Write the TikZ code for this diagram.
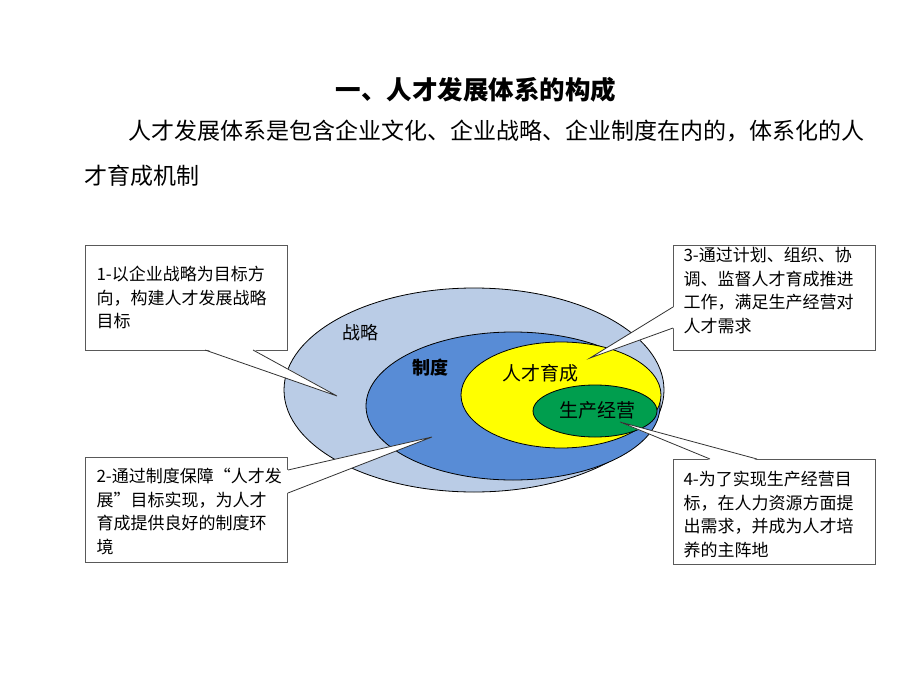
\documentclass[tikz,border=0pt]{standalone}
\usepackage{fontspec}
\setmainfont{Noto Sans CJK SC}
\usepackage{xcolor}
\usetikzlibrary{positioning}
\definecolor{outerblue}{RGB}{186,204,230}
\definecolor{midblue}{RGB}{88,140,214}
\definecolor{talentyellow}{RGB}{255,255,0}
\definecolor{opsgreen}{RGB}{0,158,78}
\begin{document}
\begin{tikzpicture}[x=1pt,y=-1pt]
    \tikzstyle{ring}=[draw=black,line width=0.8pt]
    \tikzstyle{note}=[draw=black!65,line width=0.9pt,fill=white,minimum width=202pt,minimum height=105pt,inner sep=0pt]
    \tikzstyle{notetext}=[align=left,font=\fontsize{17}{23.5}\selectfont,anchor=north west]
    \tikzstyle{tail}=[draw=black!80,line width=0.8pt,fill=white]

    \useasboundingbox (0,0) rectangle (920,690);

    % title and text
    \node[font=\fontsize{25.5}{28}\selectfont\bfseries] (title) at (476,90) {一、人才发展体系的构成};
    \node[anchor=west,font=\fontsize{23}{26}\selectfont,inner sep=0pt] (line1) at (128,131) {人才发展体系是包含企业文化、企业战略、企业制度在内的，体系化的人};
    \node[anchor=west,font=\fontsize{23}{26}\selectfont,inner sep=0pt] (line2) at (84,176) {才育成机制};

    % ellipses
    \draw[ring,fill=outerblue] (474,390) ellipse (190pt and 102pt);
    \draw[ring,fill=midblue] (513,406) ellipse (147pt and 74pt);
    \draw[ring,fill=talentyellow] (561,395) ellipse (100pt and 53pt);
    \draw[ring,fill=opsgreen] (595,411) ellipse (62pt and 26pt);

    \node[font=\fontsize{18}{20}\selectfont] (strategy) at (360,333) {战略};
    \node[font=\fontsize{18}{20}\selectfont\bfseries] (system) at (430,368) {制度};
    \node[font=\fontsize{19}{20}\selectfont] (talent) at (540,373) {人才育成};
    \node[font=\fontsize{19}{20}\selectfont] (ops) at (597,410) {生产经营};

    % callout boxes
    \node[note,anchor=north west] (n1) at (85,245) {};
    \node[note,anchor=north west] (n2) at (85,457) {};
    \node[note,anchor=north west] (n3) at (673,245) {};
    \node[note,anchor=north west] (n4) at (673,459) {};

    \node[notetext] (t1) at (93,263) {1-以企业战略为目标方\\向，构建人才发展战略\\目标};
    \node[notetext] (t2) at (93,465) {2-通过制度保障“人才发\\展”目标实现，为人才\\育成提供良好的制度环\\境};
    \node[notetext] (t3) at (680,244) {3-通过计划、组织、协\\调、监督人才育成推进\\工作，满足生产经营对\\人才需求};
    \node[notetext] (t4) at (680,468) {4-为了实现生产经营目\\标，在人力资源方面提\\出需求，并成为人才培\\养的主阵地};

    % tails
    \coordinate (tip1) at (337,396);
    \coordinate (tip2) at (432,437);
    \coordinate (tip3) at (590,358);
    \coordinate (tip4) at (620,422);

    \fill[white] (205,349) -- (tip1) -- (253,349) -- cycle;
    \draw[tail,fill=none] (205,350) -- (tip1) -- (253,350);
    \fill[white] (287,470) -- (tip2) -- (287,493) -- cycle;
    \draw[tail,fill=none] (288,470) -- (tip2) -- (288,493);
    \fill[white] (674,307) -- (tip3) -- (674,328) -- cycle;
    \draw[tail,fill=none] (673,307) -- (tip3) -- (673,328);
    \fill[white] (710,460) -- (tip4) -- (757,460) -- cycle;
    \draw[tail,fill=none] (710,459) -- (tip4) -- (757,459);
\end{tikzpicture}
\end{document}
